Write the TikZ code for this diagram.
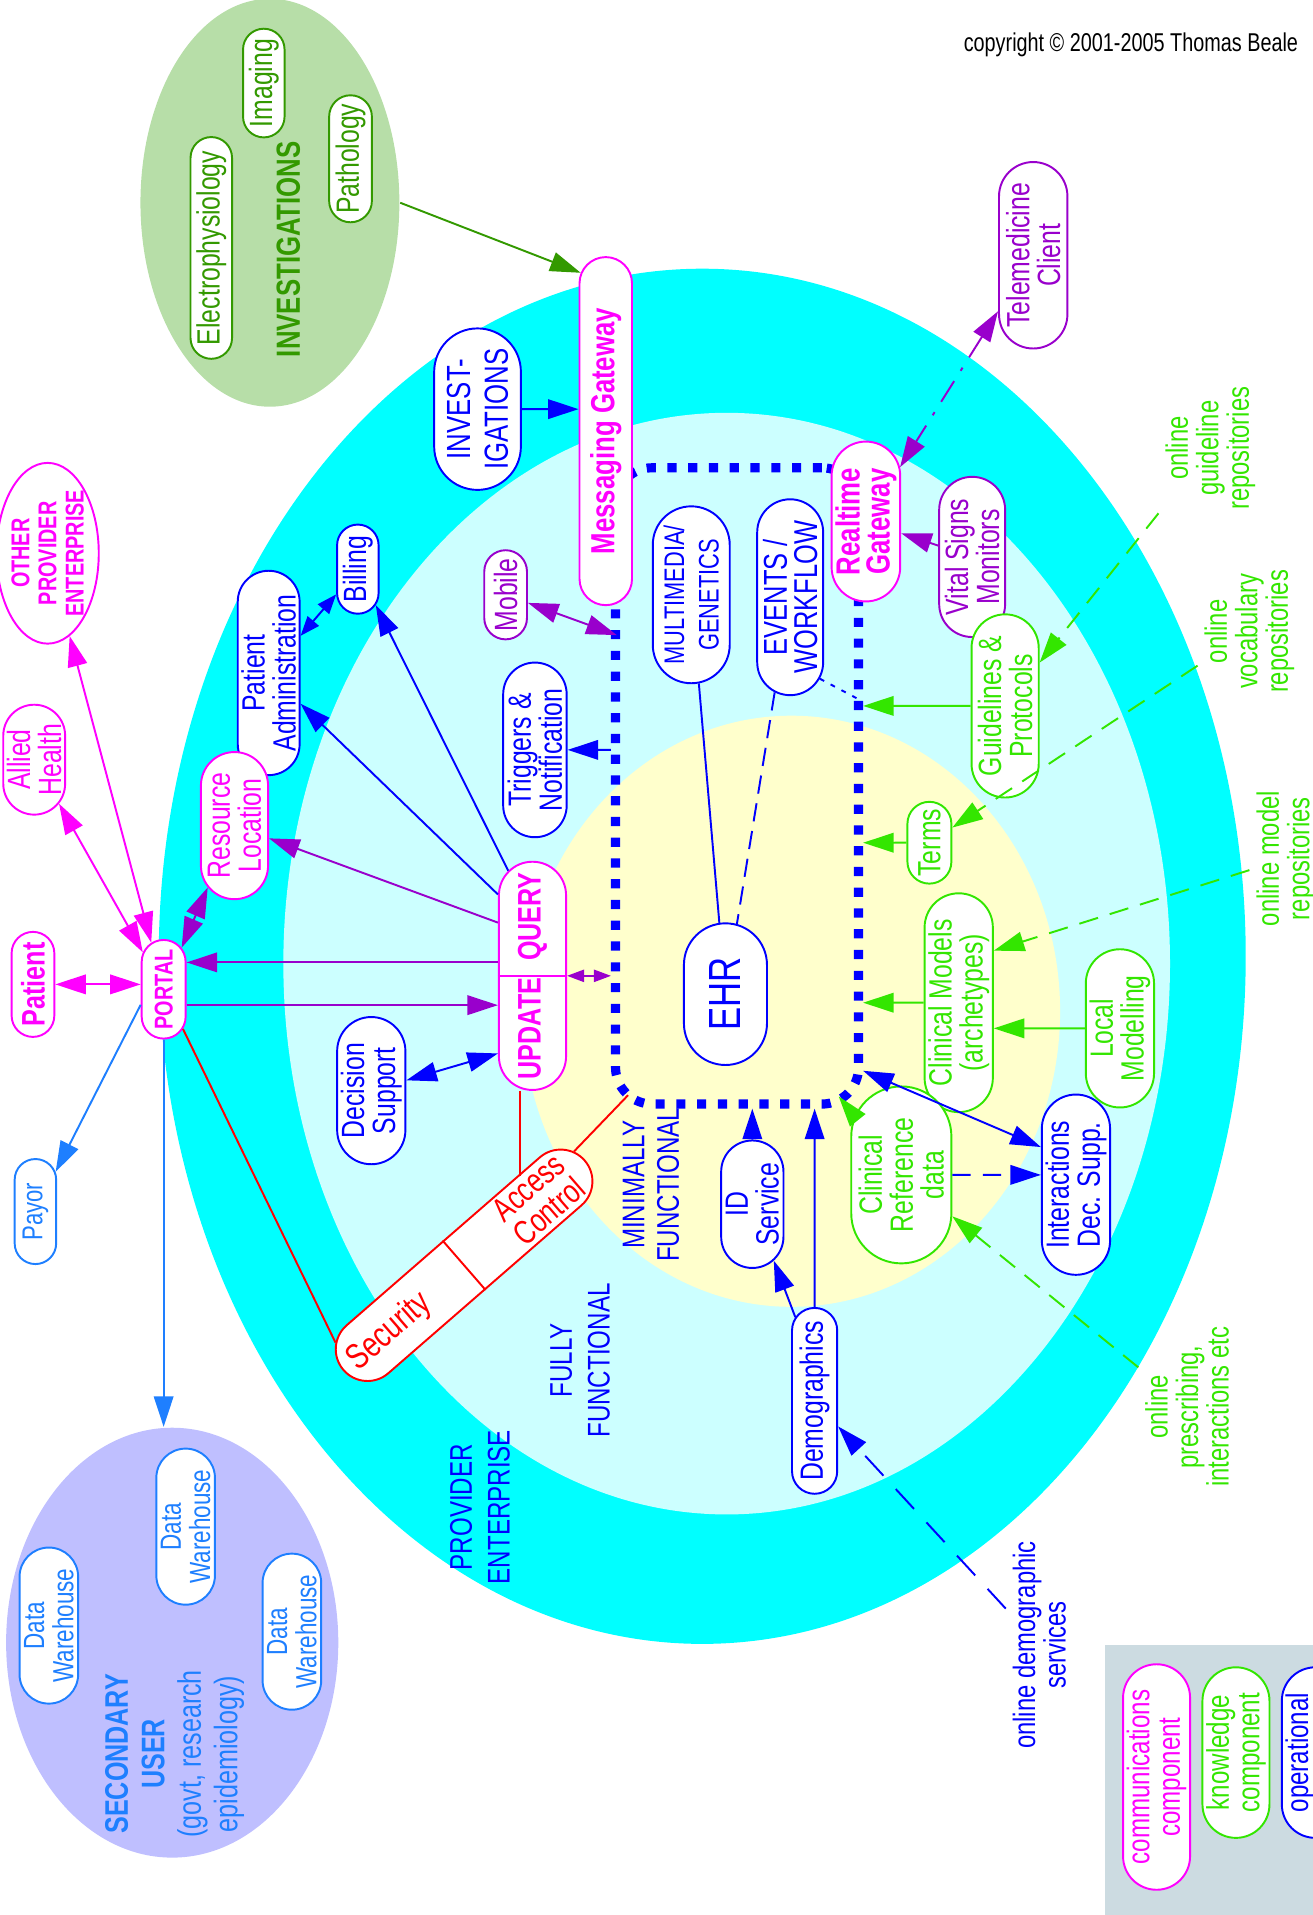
\documentclass[tikz,border=0pt]{standalone}
\usepackage{fontspec}
\setmainfont{Liberation Sans}[FakeStretch=0.77]
\usetikzlibrary{shapes.misc,shapes.geometric,arrows.meta}
\definecolor{cmag}{RGB}{255,0,255}
\definecolor{cpur}{RGB}{153,0,204}
\definecolor{cblu}{RGB}{0,0,255}
\definecolor{cgrn}{RGB}{51,230,0}
\definecolor{cinv}{RGB}{51,153,0}
\definecolor{clbl}{RGB}{30,127,255}
\definecolor{ccyan}{RGB}{0,255,255}
\definecolor{clcyan}{RGB}{204,255,255}
\definecolor{cyel}{RGB}{255,255,204}
\definecolor{cinvfill}{RGB}{183,222,168}
\definecolor{csecfill}{RGB}{191,191,255}
\definecolor{cleg}{RGB}{204,219,225}
\newcommand{\myfs}[2]{\fontsize{#1}{#2}\selectfont}
\begin{document}
\begin{tikzpicture}[x=0.1mm,y=-0.1mm,
  box/.style={rounded rectangle, draw, fill=white, rotate=90, line width=0.45pt, inner xsep=0.6mm, inner ysep=0.3mm, align=center, font=\myfs{7.5}{7.2}},
  sz/.style 2 args={minimum width=#1mm, minimum height=#2mm},
  nb/.style={draw=cblu,text=cblu},
  ng/.style={draw=cgrn,text=cgrn},
  ni/.style={draw=cinv,text=cinv},
  nm/.style={draw=cmag,text=cmag},
  np/.style={draw=cpur,text=cpur},
  nl/.style={draw=clbl,text=clbl},
  lbl/.style={rotate=90, align=center, inner sep=0.5mm, font=\myfs{7.2}{7.1}},
  aone/.style={-{Triangle[length=2.5mm,width=1.6mm]}},
  atwo/.style={{Triangle[length=2.5mm,width=1.6mm]}-{Triangle[length=2.5mm,width=1.6mm]}},
  asmall/.style={{Triangle[length=1.4mm,width=1mm]}-{Triangle[length=1.4mm,width=1mm]}},
  ln/.style={line width=0.45pt},
  gdash/.style={dash pattern=on 1.6mm off 1mm}]
\useasboundingbox (0,0) rectangle (1075,1568);

% backgrounds
\fill[ccyan] (575,783) ellipse [x radius=445, y radius=563];
\fill[clcyan] (595,789) ellipse [x radius=363, y radius=451];
\fill[cyel] (648,828) ellipse [x radius=220, y radius=242];
\fill[cleg] (905,1347) rectangle (1075,1568);
\node[ellipse, fill=cinvfill, minimum width=21.2mm, minimum height=33.4mm, inner sep=0] (invg) at (221,166) {};
\node[ellipse, fill=csecfill, minimum width=27.2mm, minimum height=35.2mm, inner sep=0] (secu) at (141,1345) {};

% core (minimally functional EHR boundary)
\node[draw=cblu, line width=0.75mm, dash pattern=on 0.75mm off 0.95mm, rounded corners=3mm, minimum width=19.9mm, minimum height=52.1mm, inner sep=0] (core) at (603.5,643.5) {};

% investigations
\node[box,ni,sz={17.6}{3.4}] (elec) at (173,203) {Electrophysiology};
\node[box,ni,sz={10.1}{3.4}] (imag) at (216,68) {Imaging};
\node[box,ni,sz={11.6}{3.5}] (path) at (287,130) {Pathology};
\node[lbl,text=cinv,font={\myfs{7.8}{8}\bfseries}] (invt) at (236,204) {INVESTIGATIONS};

% nodes
\node[box,nm,sz={29.7}{4.3},font={\myfs{7.8}{7}\bfseries}] (mg) at (496,353) {Messaging Gateway};
\node[box,nb,sz={12.2}{7.1},font=\myfs{7.8}{8.8}] (inv) at (391,335) {INVEST-\\IGATIONS};
\node[box,np,sz={14}{5.6}] (tele) at (846,209) {Telemedicine\\Client};
\node[box,nm,sz={10.9}{4.9},font={\myfs{7.8}{7}\bfseries}] (rg) at (709,427) {Realtime\\Gateway};
\node[box,np,sz={11.2}{5.4}] (vital) at (796,456) {Vital Signs\\Monitors};
\node[box,nb,sz={13.7}{6.3},font=\myfs{6.6}{8}] (mm) at (566,487) {MULTIMEDIA/\\GENETICS};
\node[box,nb,sz={15.4}{5.4},font=\myfs{7.7}{7}] (ev) at (647,489) {EVENTS /\\WORKFLOW};
\node[box,np,sz={8.5}{3.5}] (mob) at (414,487) {Mobile};
\node[box,nb,sz={8.5}{3.4}] (bill) at (293,466) {Billing};
\node[box,nb,sz={15.1}{4.8}] (pa) at (220,551) {Patient\\Administration};
\node[box,nb,sz={15.5}{5.2}] (trig) at (438,614) {Triggers \&\\Notification};
\node[box,nm,sz={10.3}{5.5}] (rl) at (192,676) {Resource\\Location};
\node[box,nm,sz={18.4}{5.5},font={\myfs{7.6}{7}\bfseries}] (uq) at (436,799) {UPDATE\hspace{1.4mm}QUERY};
\draw[cmag,ln] (uq.north) -- (uq.south);
\node[box,nm,sz={7.9}{3.6},font={\myfs{6}{6}\bfseries}] (portal) at (134,810) {PORTAL};
\node[box,nm,sz={9.8}{3.5},font={\myfs{7.6}{7}\bfseries}] (patient) at (27,806) {Patient};
\node[box,nm,sz={10.2}{4.8}] (allied) at (28,622) {Allied\\Health};
\node[ellipse,draw=cmag,text=cmag,fill=white,rotate=90,align=center,inner sep=0,minimum width=14.8mm,minimum height=7.8mm,line width=0.45pt,font={\myfs{6}{6.3}\bfseries}] (ope) at (39,453) {OTHER\\PROVIDER\\ENTERPRISE};
\node[box,nb,sz={10}{4.7}] (ds) at (304,893) {Decision\\Support};
\node[box,nl,sz={9.8}{3.4},font=\myfs{6.7}{6.5}] (payor) at (29,992) {Payor};
\node[box,nb,sz={12.8}{6.8},font=\myfs{10.5}{10}] (ehr) at (594,814) {EHR};
\node[box,ng,sz={7.9}{3.6}] (terms) at (761,690) {Terms};
\node[box,ng,sz={13.1}{5.5}] (guide) at (823,578) {Guidelines \&\\Protocols};
\node[box,ng,sz={16.6}{5.3}] (cm) at (785,821) {Clinical Models\\(archetypes)};
\node[box,ng,sz={10.7}{4.9}] (lm) at (917,842) {Local\\Modelling};
\node[box,ng,sz={10.7}{8.2}] (crd) at (738,962) {Clinical\\Reference\\data};
\node[box,nb,sz={13.3}{4.9}] (ids) at (881,970) {Interactions\\Dec. Supp.};
\node[box,nb,sz={9.5}{5.1}] (idserv) at (616,986) {ID\\Service};
\node[box,nb,sz={14.7}{3.7}] (demo) at (667,1147) {Demographics};
\node[box,nl,sz={10.3}{4.8},font=\myfs{6.8}{6.8}] (dwa) at (40,1331) {Data\\Warehouse};
\node[box,nl,sz={10.3}{4.8},font=\myfs{6.8}{6.8}] (dwb) at (152,1250) {Data\\Warehouse};
\node[box,nl,sz={10.3}{4.8},font=\myfs{6.8}{6.8}] (dwc) at (239,1336) {Data\\Warehouse};
\node[box,nm,sz={17.3}{4.8},font=\myfs{7.3}{7.1}] (comm) at (947,1455) {communications\\component};
\node[box,ng,sz={13.2}{5.3},font=\myfs{7.3}{7.1}] (know) at (1012,1435) {knowledge\\component};
\node[box,nb,sz={13.2}{5.3},font=\myfs{7.3}{7.1}] (oper) at (1077,1435) {operational\\component};

% security / access control
\node[rounded rectangle,draw=red,fill=white,rotate=41,minimum width=28.5mm,minimum height=5.2mm,line width=0.45pt] (secbox) at (380,1036) {};
\draw[red,ln] (secbox.north) -- (secbox.south);
\node[rotate=41,text=red,font=\myfs{8.3}{7.5}] (sect) at (319,1091) {Security};
\node[rotate=41,text=red,align=center,font=\myfs{7.8}{7.4}] (act) at (441,982) {Access\\Control};

% labels
\node[lbl,text=cblu,font=\myfs{7.3}{8}] (minf) at (533,970) {MINIMALLY\\FUNCTIONAL};
\node[lbl,text=cblu,font=\myfs{7.3}{8.8}] (fullf) at (475,1114) {FULLY\\FUNCTIONAL};
\node[lbl,text=cblu,font=\myfs{7.3}{8.8}] (prov) at (393,1234) {PROVIDER\\ENTERPRISE};
\node[lbl,text=cgrn] (guidl) at (991,367) {online\\guideline\\repositories};
\node[lbl,text=cgrn] (vocl) at (1023,517) {online\\vocabulary\\repositories};
\node[lbl,text=cgrn] (modl) at (1053,703) {online model\\repositories};
\node[lbl,text=cgrn] (presl) at (972,1152) {online\\prescribing,\\interactions etc};
\node[lbl,text=cblu] (deml) at (851,1347) {online demographic\\services};
\node[lbl,text=clbl,font=\myfs{7.6}{8.5}] (secl) at (143,1436) {\textbf{SECONDARY}\\\textbf{USER}\\(govt, research\\epidemiology)};
\node[text=black,font=\myfs{6}{6}] (copy) at (926,37) {copyright © 2001-2005 Thomas Beale};

% connectors
\draw[ln,cinv,aone] (invg.east) -- (mg.9);
\draw[ln,cblu,aone] (inv) -- (inv -| mg.north);
\draw[ln,cpur,atwo,dash pattern=on 2mm off 1mm on 0.3mm off 1mm] (tele) -- (rg);
\draw[ln,cpur,aone] (vital) -- (rg);
\coordinate (mobend) at (505,520);
\draw[ln,cpur,atwo] (mob) -- (mobend);
\draw[ln,cblu,aone] (trig -| core.west) -- (trig);
\draw[ln,cblu,{Triangle[length=1.6mm,width=1.2mm]}-{Triangle[length=1.6mm,width=1.2mm]}] (bill) -- (pa);
\draw[ln,cblu,aone] (uq.13) -- (bill);
\draw[ln,cblu,aone] (uq.23) -- (pa);
\draw[ln,cpur,aone] (uq.33) -- (rl);
\coordinate (qy) at ([yshift=1.1mm]uq.north);
\coordinate (uy) at ([yshift=-2.4mm]uq.north);
\draw[ln,cpur,aone] (qy) -- (qy -| portal.south);
\draw[ln,cpur,aone] (uy -| portal.south) -- (uy);
\draw[ln,cpur,asmall] (uq.south) -- (uq.south -| core.west);
\draw[ln,cblu,atwo] (ds) -- (uq.156);
\draw[ln,cpur,atwo] (rl) -- (portal);
\draw[ln,cmag,atwo] (patient.south) -- (patient.south -| portal.north);
\draw[ln,cmag,atwo] (allied) -- (portal);
\draw[ln,cmag,atwo] (ope) -- (portal);
\draw[ln,clbl,aone] (portal.124) -- (payor);
\draw[ln,clbl,aone] (portal.west) -- (portal.west |- secu.north);
\draw[ln,red] (portal) -- (secbox.170);
\draw[ln,red] ([xshift=-1mm]uq.west) -- ++(0,70);
\coordinate (ccorner) at ([xshift=1.4mm,yshift=1.1mm]core.south west);
\draw[ln,red] (secbox.5) -- (ccorner);
\draw[ln,cgrn,aone] (guide) -- (guide -| core.east);
\draw[ln,cgrn,aone] (terms) -- (terms -| core.east);
\draw[ln,cgrn,aone] (cm) -- (cm -| core.east);
\draw[ln,cgrn,aone] (lm) -- (lm -| cm.south);
\coordinate (cse) at ([xshift=-2mm,yshift=1mm]core.south east);
\draw[ln,cgrn,aone] (crd) -- (cse);
\coordinate (cse2) at ([yshift=3.1mm]core.south east);
\draw[ln,cblu,atwo] (cse2) -- (ids.43);
\draw[ln,cblu,aone,dash pattern=on 1.5mm off 1mm] (crd) -- (crd -| ids.north);
\draw[ln,cblu,dash pattern=on 1.5mm off 0.8mm] (ev) -- (ehr);
\draw[ln,cblu] (mm) -- (ehr);
\coordinate (evend) at (702,572);
\draw[ln,cblu,dash pattern=on 0.4mm off 0.6mm] (ev.200) -- (evend);
\draw[ln,cblu,aone] (idserv) -- (idserv |- core.south);
\draw[ln,cblu,aone] (demo) -- (demo |- core.south);
\draw[ln,cblu,aone] (demo.13) -- (idserv);
\draw[ln,cblu,aone,dash pattern=on 2.2mm off 1.5mm] (deml) -- (demo);
\draw[ln,cgrn,aone,gdash] (presl) -- (crd);
\draw[ln,cgrn,aone,gdash] (modl) -- (cm.326);
\draw[ln,cgrn,aone,gdash] (vocl) -- (terms);
\draw[ln,cgrn,aone,gdash] (guidl) -- (guide);
\end{tikzpicture}
\end{document}
